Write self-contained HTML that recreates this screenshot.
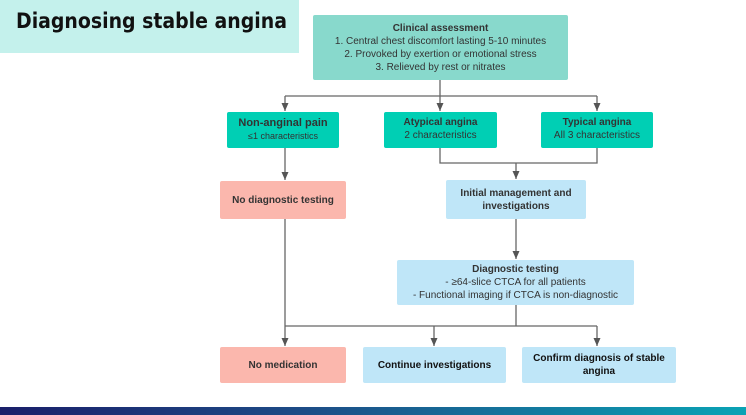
<!DOCTYPE html>
<html><head><style>
body{margin:0;width:746px;height:415px;background:#fff;position:relative;overflow:hidden;font-family:"Liberation Sans",sans-serif}
.b{position:absolute;box-sizing:border-box;border-radius:2px;display:flex;flex-direction:column;align-items:center;justify-content:center;text-align:center;color:#333;font-size:10px;line-height:13px}
.t{font-weight:bold}
</style></head><body>
<div style="position:absolute;left:0;top:0;width:299px;height:53px;background:#c4f1ec"></div>
<div style="position:absolute;left:16px;top:9px;font-size:21px;color:#111;font-family:'DejaVu Sans Condensed','Liberation Sans Narrow',sans-serif;font-weight:bold">Diagnosing stable angina</div>
<svg width="746" height="415" style="position:absolute;left:0;top:0">
<defs><marker id="a" markerWidth="8" markerHeight="8" refX="8" refY="3.5" orient="auto" markerUnits="userSpaceOnUse"><path d="M0,0 L8,3.5 L0,7z" fill="#555"/></marker></defs>
<g stroke="#666" stroke-width="1.3" fill="none">
<path d="M440,80V96"/><path d="M285,96H597"/>
<path d="M285,96V111" marker-end="url(#a)"/><path d="M440,96V111" marker-end="url(#a)"/><path d="M597,96V111" marker-end="url(#a)"/>
<path d="M285,148V180" marker-end="url(#a)"/>
<path d="M440,148V163H597V148"/><path d="M516,163V179" marker-end="url(#a)"/>
<path d="M516,219V259" marker-end="url(#a)"/>
<path d="M285,219V346" marker-end="url(#a)"/>
<path d="M285,326H597"/><path d="M516,305V326"/>
<path d="M434,326V346" marker-end="url(#a)"/><path d="M597,326V346" marker-end="url(#a)"/>
</g></svg>
<div class="b" style="left:313px;top:15px;width:255px;height:65px;background:#88d9cc"><span class="t">Clinical assessment</span>1. Central chest discomfort lasting 5-10 minutes<br>2. Provoked by exertion or emotional stress<br>3. Relieved by rest or nitrates</div>
<div class="b" style="left:227px;top:112px;width:112px;height:36px;background:#00cfb4"><span class="t" style="font-size:11px">Non-anginal pain</span><span style="font-size:9px">≤1 characteristics</span></div>
<div class="b" style="left:384px;top:112px;width:113px;height:36px;background:#00cfb4;justify-content:flex-start;padding-top:4px"><span class="t">Atypical angina</span>2 characteristics</div>
<div class="b" style="left:541px;top:112px;width:112px;height:36px;background:#00cfb4;justify-content:flex-start;padding-top:4px"><span class="t">Typical angina</span>All 3 characteristics</div>
<div class="b t" style="left:220px;top:181px;width:126px;height:38px;background:#fbb7ad">No diagnostic testing</div>
<div class="b t" style="left:446px;top:180px;width:140px;height:39px;background:#bfe6f8">Initial management and<br>investigations</div>
<div class="b" style="left:397px;top:260px;width:237px;height:45px;background:#bfe6f8"><span class="t">Diagnostic testing</span>- ≥64-slice CTCA for all patients<br>- Functional imaging if CTCA is non-diagnostic</div>
<div class="b t" style="left:220px;top:347px;width:126px;height:36px;background:#fbb7ad">No medication</div>
<div class="b t" style="left:363px;top:347px;width:143px;height:36px;background:#bfe6f8;color:#111">Continue investigations</div>
<div class="b t" style="left:522px;top:347px;width:154px;height:36px;background:#bfe6f8;color:#111">Confirm diagnosis of stable<br>angina</div>
<div style="position:absolute;left:0;top:407px;width:746px;height:8px;background:linear-gradient(90deg,#1a1f6a,#1d4b86 40%,#0aa3b5)"></div>
</body></html>
